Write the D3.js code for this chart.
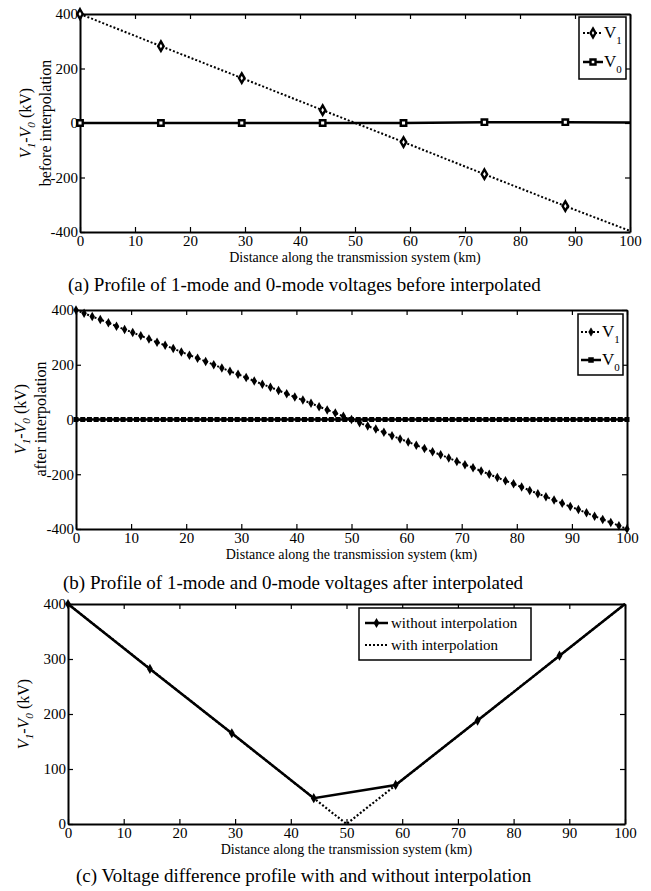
<!DOCTYPE html>
<html>
<head>
<meta charset="utf-8">
<script src="https://cdn.jsdelivr.net/npm/d3@7"></script>
<style>
  body { margin: 0; background: #fff; }
</style>
</head>
<body>
<script>
// (a) before interpolation: samples every ~14.7 km
var aDist = [0, 14.71, 29.41, 44.12, 58.82, 73.53, 88.24, 100];
var aV1 = [400, 282, 165, 47, -70, -188, -305, -396];
var aV0 = [0, 0, 0, 0, 0, 3, 3, 2];

// (b) after interpolation
var bDist1 = [0, 1.47, 2.94, 4.41, 5.88, 7.35, 8.82, 10.29, 11.76, 13.24, 14.71, 16.18, 17.65, 19.12, 20.59,
  22.06, 23.53, 25, 26.47, 27.94, 29.41, 30.88, 32.35, 33.82, 35.29, 36.76, 38.24, 39.71, 41.18, 42.65,
  44.12, 45.59, 47.06, 48.53, 50, 51.47, 52.94, 54.41, 55.88, 57.35, 58.82, 60.29, 61.76, 63.24, 64.71,
  66.18, 67.65, 69.12, 70.59, 72.06, 73.53, 75, 76.47, 77.94, 79.41, 80.88, 82.35, 83.82, 85.29, 86.76,
  88.24, 89.71, 91.18, 92.65, 94.12, 95.59, 97.06, 98.53, 100];
var bV1 = [400, 388, 376, 365, 353, 341, 329, 318, 306, 294, 282, 271, 259, 247, 235,
  224, 212, 200, 188, 176, 165, 153, 141, 129, 118, 106, 94, 82, 71, 59,
  47, 35, 24, 12, 0, -12, -24, -35, -47, -59, -71, -82, -94, -106, -118,
  -129, -141, -153, -165, -176, -188, -200, -212, -224, -235, -247, -259, -271, -282, -294,
  -306, -318, -329, -341, -353, -365, -376, -388, -400];
var bDist0 = [0, 1.22, 2.44, 3.66, 4.88, 6.1, 7.32, 8.54, 9.76, 10.98, 12.2, 13.41, 14.63, 15.85, 17.07,
  18.29, 19.51, 20.73, 21.95, 23.17, 24.39, 25.61, 26.83, 28.05, 29.27, 30.49, 31.71, 32.93, 34.15, 35.37,
  36.59, 37.8, 39.02, 40.24, 41.46, 42.68, 43.9, 45.12, 46.34, 47.56, 48.78, 50, 51.22, 52.44, 53.66,
  54.88, 56.1, 57.32, 58.54, 59.76, 60.98, 62.2, 63.41, 64.63, 65.85, 67.07, 68.29, 69.51, 70.73, 71.95,
  73.17, 74.39, 75.61, 76.83, 78.05, 79.27, 80.49, 81.71, 82.93, 84.15, 85.37, 86.59, 87.8, 89.02, 90.24,
  91.46, 92.68, 93.9, 95.12, 96.34, 97.56, 98.78, 100];
var bV0 = [0, 0, 0, 0, 0, 0, 0, 0, 0, 0, 0, 0, 0, 0, 0,
  0, 0, 0, 0, 0, 0, 0, 0, 0, 0, 0, 0, 0, 0, 0,
  0, 0, 0, 0, 0, 0, 0, 0, 0, 0, 0, 0, 0, 0, 0,
  0, 0, 0, 0, 0, 0, 0, 0, 0, 0, 0, 0, 0, 0, 0,
  0, 0, 0, 0, 0, 0, 0, 0, 0, 0, 0, 0, 0, 0, 0,
  0, 0, 0, 0, 0, 0, 0, 0];

// (c) voltage difference
var cDistRaw = [0, 14.71, 29.41, 44.12, 58.82, 73.53, 88.24, 100];
var cRaw = [400, 282, 165, 47, 71, 188, 306, 400];
var cDistInterp = [0, 50, 100];
var cInterp = [400, 0, 400];

var xTicks = [0, 10, 20, 30, 40, 50, 60, 70, 80, 90, 100];
var abTicks = [-400, -200, 0, 200, 400];
var cTicks = [0, 100, 200, 300, 400];

var serif = "'Liberation Serif', 'Times New Roman', serif";
var xTitle = "Distance along the transmission system (km)";

var svg = d3.select("body").append("svg")
  .attr("width", 651)
  .attr("height", 891)
  .style("font-family", serif);

svg.append("rect").attr("width", 651).attr("height", 891).attr("fill", "#fff");

function panel(box, yDomain, yTicks) {
  var x = d3.scaleLinear().domain([0, 100]).range([box.left, box.right]);
  var y = d3.scaleLinear().domain(yDomain).range([box.bottom, box.top]);
  var g = svg.append("g");

  g.append("g").attr("class", "ax")
    .attr("transform", `translate(0, ${box.bottom})`)
    .call(d3.axisBottom(x).tickValues(xTicks).tickSizeInner(-5).tickSizeOuter(0).tickPadding(3));
  g.append("g").attr("class", "ax")
    .attr("transform", `translate(0, ${box.top})`)
    .call(d3.axisTop(x).tickValues(xTicks).tickSizeInner(-5).tickSizeOuter(0).tickFormat(""));
  g.append("g").attr("class", "ax")
    .attr("transform", `translate(${box.left}, 0)`)
    .call(d3.axisLeft(y).tickValues(yTicks).tickSizeInner(-5).tickSizeOuter(0).tickPadding(2).tickFormat(d => String(d)));
  g.append("g").attr("class", "ax")
    .attr("transform", `translate(${box.right}, 0)`)
    .call(d3.axisRight(y).tickValues(yTicks).tickSizeInner(-5).tickSizeOuter(0).tickFormat(""));

  g.selectAll(".ax").attr("font-family", serif).attr("font-size", 15);
  g.selectAll(".ax text").attr("fill", "#000");
  g.selectAll(".ax .domain").attr("stroke", "#000").attr("stroke-width", 2);
  g.selectAll(".ax .tick line").attr("stroke", "#000").attr("stroke-width", 1.2);

  g.append("text")
    .attr("x", (box.left + box.right) / 2)
    .attr("y", box.bottom + 30)
    .attr("text-anchor", "middle")
    .attr("font-size", 14)
    .text(xTitle);

  return { x: x, y: y, g: g };
}

function vLabel(g, cx, cy, size) {
  var t = g.append("text")
    .attr("transform", `translate(${cx}, ${cy}) rotate(-90)`)
    .attr("text-anchor", "middle")
    .attr("dy", "0.35em")
    .attr("font-size", size);
  t.append("tspan").attr("font-style", "italic").text("V");
  t.append("tspan").attr("font-style", "italic").attr("font-size", size * 0.7).attr("dy", 4).text("1");
  t.append("tspan").attr("dy", -4).text("-");
  t.append("tspan").attr("font-style", "italic").text("V");
  t.append("tspan").attr("font-style", "italic").attr("font-size", size * 0.7).attr("dy", 4).text("0");
  t.append("tspan").attr("dy", -4).text(" (kV)");
}

function rotLine(g, cx, cy, size, txt) {
  g.append("text")
    .attr("transform", `translate(${cx}, ${cy}) rotate(-90)`)
    .attr("text-anchor", "middle")
    .attr("dy", "0.35em")
    .attr("font-size", size)
    .text(txt);
}

function caption(x, y, txt) {
  svg.append("text").attr("x", x).attr("y", y).attr("font-size", 19).text(txt);
}

function pts(xs, ys) {
  return xs.map((d, i) => ({ x: d, v: ys[i] }));
}

var diamond = d3.symbol().type(d3.symbolDiamond);
var square = d3.symbol().type(d3.symbolSquare);

function legendV(g, x0, y0, sub, dotted, sym, open) {
  g.append("line")
    .attr("x1", x0).attr("x2", x0 + 20).attr("y1", y0).attr("y2", y0)
    .attr("stroke", "#000").attr("stroke-width", dotted ? 2 : 2.5)
    .attr("stroke-dasharray", dotted ? "2,2" : null);
  g.append("path")
    .attr("d", sym)
    .attr("transform", `translate(${x0 + 10}, ${y0})`)
    .attr("fill", open ? "#fff" : "#000")
    .attr("stroke", "#000").attr("stroke-width", open ? 2.4 : 0.5);
  var t = g.append("text").attr("x", x0 + 21).attr("y", y0 + 5).attr("font-size", 17);
  t.append("tspan").text("V");
  t.append("tspan").attr("font-size", 11).attr("dy", 6).text(sub);
}

// ---------- (a) ----------
var A = panel({ left: 80, right: 630, top: 14, bottom: 232 }, [-400, 400], abTicks);
var aData1 = pts(aDist, aV1);
var aData0 = pts(aDist, aV0);
var line = d3.line().x(d => A.x(d.x)).y(d => A.y(d.v));

A.g.append("path").datum(aData0).attr("d", line)
  .attr("fill", "none").attr("stroke", "#000").attr("stroke-width", 2.5);
A.g.append("path").datum(aData1).attr("d", line)
  .attr("fill", "none").attr("stroke", "#000").attr("stroke-width", 2).attr("stroke-dasharray", "2,2");
A.g.selectAll(".m0").data(aData0.filter(d => d.x < 100)).enter().append("path")
  .attr("d", square.size(30)())
  .attr("transform", d => `translate(${A.x(d.x)}, ${A.y(d.v)})`)
  .attr("fill", "#fff").attr("stroke", "#000").attr("stroke-width", 2.4);
A.g.selectAll(".m1").data(aData1.filter(d => d.x < 100)).enter().append("path")
  .attr("d", diamond.size(26)())
  .attr("transform", d => `translate(${A.x(d.x)}, ${A.y(d.v)})`)
  .attr("fill", "#fff").attr("stroke", "#000").attr("stroke-width", 2.4);

vLabel(A.g, 25, 123, 16);
rotLine(A.g, 45, 123, 16, "before interpolation");

var la = A.g.append("g");
la.append("rect").attr("x", 579).attr("y", 17).attr("width", 47).attr("height", 62)
  .attr("fill", "#fff").attr("stroke", "#000").attr("stroke-width", 1.5);
legendV(la, 583, 33, "1", true, diamond.size(22)(), true);
legendV(la, 583, 62, "0", false, square.size(25)(), true);

caption(68, 291, "(a) Profile of 1-mode and 0-mode voltages before interpolated");

// ---------- (b) ----------
var B = panel({ left: 76, right: 627, top: 310, bottom: 529 }, [-400, 400], abTicks);
var bData1 = pts(bDist1, bV1);
var bData0 = pts(bDist0, bV0);
var lineB = d3.line().x(d => B.x(d.x)).y(d => B.y(d.v));

B.g.append("path").datum(bData0).attr("d", lineB)
  .attr("fill", "none").attr("stroke", "#000").attr("stroke-width", 2.5);
B.g.selectAll(".m0").data(bData0).enter().append("path")
  .attr("d", square.size(25)())
  .attr("transform", d => `translate(${B.x(d.x)}, ${B.y(d.v)})`)
  .attr("fill", "#000");
B.g.append("path").datum(bData1).attr("d", lineB)
  .attr("fill", "none").attr("stroke", "#000").attr("stroke-width", 2).attr("stroke-dasharray", "2,2");
B.g.selectAll(".m1").data(bData1).enter().append("path")
  .attr("d", diamond.size(26)())
  .attr("transform", d => `translate(${B.x(d.x)}, ${B.y(d.v)})`)
  .attr("fill", "#000");

vLabel(B.g, 20, 419, 16);
rotLine(B.g, 40, 419, 16, "after interpolation");

var lb = B.g.append("g");
lb.append("rect").attr("x", 578).attr("y", 314).attr("width", 45).attr("height", 61)
  .attr("fill", "#fff").attr("stroke", "#000").attr("stroke-width", 1.5);
legendV(lb, 581, 332, "1", true, diamond.size(20)(), false);
legendV(lb, 581, 360, "0", false, square.size(25)(), false);

caption(63, 589, "(b) Profile of 1-mode and 0-mode voltages after interpolated");

// ---------- (c) ----------
var C = panel({ left: 68, right: 625, top: 604, bottom: 824 }, [0, 400], cTicks);
var cData = pts(cDistRaw, cRaw);
var cDataI = pts(cDistInterp, cInterp);
var lineC = d3.line().x(d => C.x(d.x)).y(d => C.y(d.v));

C.g.append("path").datum(cDataI).attr("d", lineC)
  .attr("fill", "none").attr("stroke", "#000").attr("stroke-width", 2.2).attr("stroke-dasharray", "2,2");
C.g.append("path").datum(cData).attr("d", lineC)
  .attr("fill", "none").attr("stroke", "#000").attr("stroke-width", 2.5);
C.g.selectAll(".m").data(cData.filter(d => d.x < 100)).enter().append("path")
  .attr("d", diamond.size(30)())
  .attr("transform", d => `translate(${C.x(d.x)}, ${C.y(d.v)})`)
  .attr("fill", "#000");

vLabel(C.g, 23, 714, 16);

var lc = C.g.append("g");
lc.append("rect").attr("x", 359).attr("y", 608).attr("width", 172).attr("height", 52)
  .attr("fill", "#fff").attr("stroke", "#000").attr("stroke-width", 1.5);
lc.append("line").attr("x1", 365).attr("x2", 388).attr("y1", 623).attr("y2", 623)
  .attr("stroke", "#000").attr("stroke-width", 2.5);
lc.append("path").attr("d", diamond.size(30)()).attr("transform", "translate(376.5, 623)").attr("fill", "#000");
lc.append("text").attr("x", 391).attr("y", 628).attr("font-size", 15).text("without interpolation");
lc.append("line").attr("x1", 365).attr("x2", 388).attr("y1", 645).attr("y2", 645)
  .attr("stroke", "#000").attr("stroke-width", 2).attr("stroke-dasharray", "2,2");
lc.append("text").attr("x", 391).attr("y", 650).attr("font-size", 15).text("with interpolation");

caption(76, 882, "(c) Voltage difference profile with and without interpolation");
</script>
</body>
</html>
